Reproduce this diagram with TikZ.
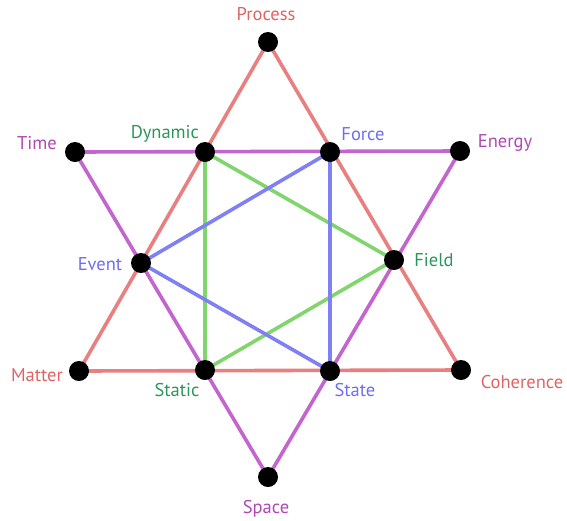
\documentclass[tikz,border=0pt]{standalone}
\usepackage{fontspec}
\setmainfont{PT Sans}
\definecolor{redl}{RGB}{232,128,128}
\definecolor{purl}{RGB}{196,100,206}
\definecolor{grnl}{RGB}{128,214,108}
\definecolor{blul}{RGB}{128,128,245}
\definecolor{redt}{RGB}{222,100,100}
\definecolor{purt}{RGB}{176,72,180}
\definecolor{grnt}{RGB}{44,150,90}
\definecolor{blut}{RGB}{110,110,240}
\begin{document}
\begin{tikzpicture}[x=1pt,y=-1pt,
  dot/.style={circle,fill=black,inner sep=0pt,minimum size=20pt},
  lbl/.style={font=\fontsize{18.5}{22}\selectfont,inner sep=0pt},
  edge/.style={line width=3.6pt}]
\useasboundingbox (0,0) rectangle (567,520);
\coordinate (process) at (268,42);
\coordinate (time) at (75,152);
\coordinate (dynamic) at (205,152);
\coordinate (force) at (330,152);
\coordinate (energy) at (460,151);
\coordinate (event) at (141,263);
\coordinate (field) at (394,260);
\coordinate (matter) at (79,371);
\coordinate (static) at (205,370);
\coordinate (state) at (330,371);
\coordinate (coherence) at (461,370);
\coordinate (space) at (268,477);
\draw[edge,redl] (process) -- (matter) -- (coherence) -- cycle;
\draw[edge,purl] (time) -- (energy) -- (space) -- cycle;
\draw[edge,grnl] (dynamic) -- (static) -- (field) -- cycle;
\draw[edge,blul] (force) -- (state) -- (event) -- cycle;
\foreach \n in {process,time,dynamic,force,energy,event,field,matter,static,state,coherence,space}
  \node[dot] (d\n) at (\n) {};
\node[lbl,text=redt] (lprocess) at (266,14) {Process};
\node[lbl,text=purt] (ltime) at (37,143) {Time};
\node[lbl,text=grnt] (ldynamic) at (165,134) {Dynamic};
\node[lbl,text=blut] (lforce) at (363,134) {Force};
\node[lbl,text=purt] (lenergy) at (505,143) {Energy};
\node[lbl,text=blut] (levent) at (100,264) {Event};
\node[lbl,text=grnt] (lfield) at (434,260) {Field};
\node[lbl,text=redt] (lmatter) at (37,375) {Matter};
\node[lbl,text=grnt] (lstatic) at (177,390) {Static};
\node[lbl,text=blut] (lstate) at (355,390) {State};
\node[lbl,text=redt] (lcoherence) at (522,382) {Coherence};
\node[lbl,text=purt] (lspace) at (266,509) {Space};
\end{tikzpicture}
\end{document}
